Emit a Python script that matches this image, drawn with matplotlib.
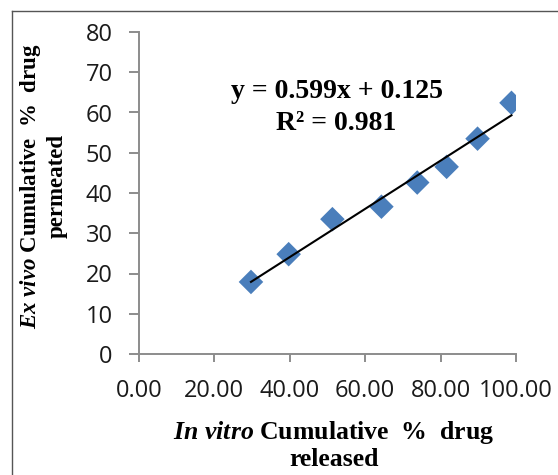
import matplotlib
matplotlib.use("Agg")
import matplotlib.pyplot as plt
from matplotlib.lines import Line2D
import numpy as np

# Data
in_vitro = [29.7, 39.7, 51.3, 64.3, 73.8, 81.6, 89.8, 98.8]
ex_vivo = [17.9, 24.8, 33.5, 36.6, 42.6, 46.5, 53.5, 62.4]
slope = 0.599
intercept = 0.125
r2 = 0.981
x_ticks = [0, 20, 40, 60, 80, 100]
y_ticks = [0, 10, 20, 30, 40, 50, 60, 70, 80]

plt.rcParams['mathtext.fontset'] = 'custom'
plt.rcParams['mathtext.rm'] = 'Liberation Serif:bold'
plt.rcParams['mathtext.it'] = 'Liberation Serif:italic:bold'
plt.rcParams['mathtext.bf'] = 'Liberation Serif:bold'

W, H = 558, 475
fig = plt.figure(figsize=(W / 100, H / 100), dpi=100)
ax = fig.add_axes([139 / W, 1 - 354 / H, (516 - 139) / W, (354 - 32) / H])

ax.scatter(in_vitro, ex_vivo, marker='D', s=12.5 ** 2, color='#4a7ebb',
           edgecolors='none', zorder=2)
xs = np.array([min(in_vitro), max(in_vitro)])
ax.plot(xs, slope * xs + intercept, color='black', lw=1.5, zorder=3)

ax.set_xlim(0, 100)
ax.set_ylim(0, 80)
ax.set_xticks(x_ticks)
ax.set_xticklabels([f"{v:.2f}" for v in x_ticks])
ax.set_yticks(y_ticks)
ax.set_yticklabels([str(v) for v in y_ticks])

for s in ['top', 'right']:
    ax.spines[s].set_visible(False)
for s in ['left', 'bottom']:
    ax.spines[s].set_color('#8c8c8c')
    ax.spines[s].set_linewidth(1.4)
ax.tick_params(axis='y', length=7, width=1.4, color='#8c8c8c', pad=12,
               labelsize=17)
ax.tick_params(axis='x', length=6, width=1.4, color='#8c8c8c', pad=12,
               labelsize=17)
for lab in ax.get_xticklabels() + ax.get_yticklabels():
    lab.set_fontfamily('Open Sans')
    lab.set_color('#1a1a1a')

# Equation text
fig.text(337 / W, 1 - 92 / H, f"y = {slope}x + {intercept}",
         ha='center', va='center', family='Liberation Serif',
         fontweight='bold', fontsize=20)
fig.text(336 / W, 1 - 123 / H, f"R² = {r2}",
         ha='center', va='center', family='Liberation Serif',
         fontweight='bold', fontsize=20)

# Axis labels
fig.text(334 / W, 1 - 445 / H,
         r"$\mathit{In\ vitro}$ Cumulative  %  drug" + "\nreleased",
         ha='center', va='center', family='Liberation Serif',
         fontweight='bold', fontsize=18.5, linespacing=1.15)
fig.text(43 / W, 1 - 186 / H,
         r"$\mathit{Ex\ vivo}$ Cumulative  %  drug" + "\npermeated",
         ha='center', va='center', rotation=90, family='Liberation Serif',
         fontweight='bold', fontsize=16.5, linespacing=1.2)

# Outer frame (top and left edges)
fig.add_artist(Line2D([12 / W, 1], [1 - 11 / H, 1 - 11 / H],
                      transform=fig.transFigure, color='#555555', lw=1.0))
fig.add_artist(Line2D([12 / W, 12 / W], [0, 1 - 11 / H],
                      transform=fig.transFigure, color='#555555', lw=1.0))

fig.savefig("out.png", dpi=100)
